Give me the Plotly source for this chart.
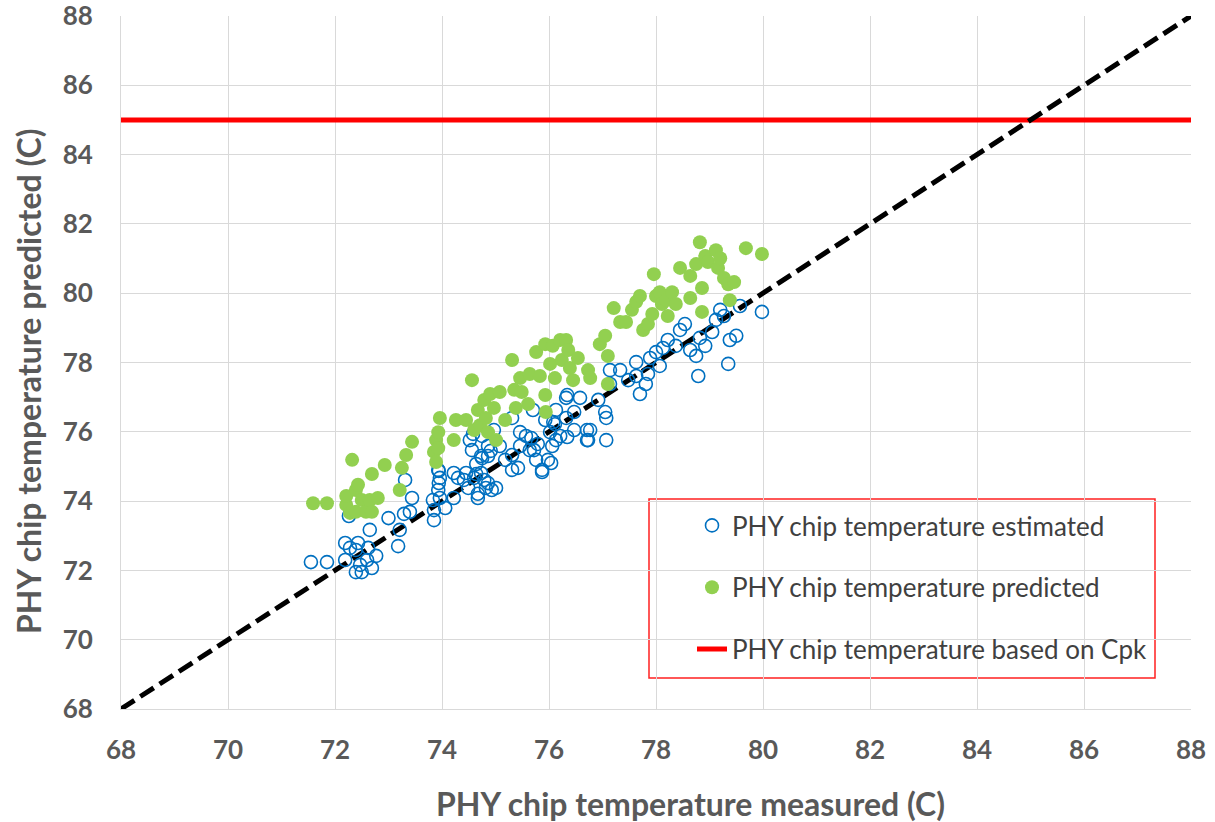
import plotly.graph_objects as go

# Estimated (blue open circles)
est_x = [71.55, 71.85, 72.19, 72.28, 72.19, 72.39, 72.43, 72.39, 72.50, 72.47, 72.60, 72.69, 72.62, 72.77,
         72.65, 72.26, 73.00, 73.18, 73.21, 73.29, 73.40, 73.44, 73.31, 73.85, 73.83, 73.85, 73.96, 73.93,
         73.96, 73.93, 74.06, 74.22, 74.30, 74.41, 74.49, 74.64, 74.67, 74.79, 74.82, 74.93, 74.86, 74.75,
         74.64, 74.56, 74.52, 74.75, 74.97, 75.08, 75.18, 75.31, 75.31, 75.42, 75.46, 75.57, 75.64, 75.79,
         75.76, 75.87, 75.98, 76.06, 76.02, 76.11, 75.93, 76.13, 76.32, 76.21, 76.47, 76.47, 76.32, 76.58,
         76.73, 76.77, 77.07, 77.07, 77.05, 76.92, 77.14, 77.14, 77.33, 77.48, 77.63, 77.63, 77.70, 77.81,
         77.85, 77.89, 78.00, 78.07, 78.13, 78.22, 78.37, 78.45, 78.54, 78.64, 78.75, 78.79, 78.82, 78.92,
         79.12, 79.05, 79.20, 79.27, 79.35, 79.38, 79.50, 79.57, 79.98,
         75.31, 75.46, 75.67, 75.72, 75.87, 76.04, 76.13, 76.34, 76.71, 76.71, 76.34, 75.70, 76.08,
         74.86, 74.91, 74.73, 74.58, 73.94, 73.94, 74.22, 74.45, 74.60, 74.73, 74.86, 75.01, 74.67]
est_y = [72.24, 72.24, 72.30, 72.65, 72.79, 72.59, 72.79, 71.95, 71.95, 72.16, 72.30, 72.07, 72.65, 72.42,
         73.17, 73.57, 73.51, 72.70, 73.17, 73.63, 73.69, 74.09, 74.61, 73.45, 74.03, 73.74, 74.09, 74.32,
         74.67, 74.90, 73.80, 74.09, 74.67, 74.61, 74.38, 74.78, 74.21, 74.61, 74.38, 74.32, 75.30, 75.24,
         75.07, 75.47, 75.76, 75.88, 76.05, 75.59, 75.19, 75.33, 74.90, 74.96, 75.59, 75.88, 75.47, 75.65,
         75.19, 74.90, 75.19, 75.59, 75.99, 76.22, 76.34, 76.63, 76.40, 75.88, 76.05, 76.57, 76.98, 76.98,
         75.76, 76.05, 75.76, 76.40, 76.57, 76.92, 77.38, 77.78, 77.78, 77.49, 77.61, 78.01, 77.09, 77.38,
         77.67, 78.13, 78.30, 77.90, 78.42, 78.65, 78.48, 78.94, 79.11, 78.36, 78.19, 77.61, 78.71, 78.48,
         79.23, 78.88, 79.52, 79.34, 77.96, 78.65, 78.77, 79.63, 79.46,
         76.40, 75.99, 75.82, 75.47, 74.84, 75.10, 75.76, 75.85, 76.05, 75.76, 77.06, 76.63, 76.28,
         75.59, 75.45, 75.30, 75.94, 74.87, 74.52, 74.81, 74.81, 74.67, 74.81, 74.52, 74.38, 74.09]

# Predicted (green filled circles)
pred_x = [71.59, 71.85, 72.21, 72.21, 72.32, 72.28, 72.39, 72.43, 72.39, 72.50, 72.58, 72.65, 72.69, 72.80,
          72.69, 72.93, 73.21, 73.25, 73.33, 73.44, 73.85, 73.89, 73.93, 73.96, 73.89, 73.93, 74.22, 74.26,
          74.45, 74.56, 74.60, 74.67, 74.71, 74.79, 74.82, 74.86, 74.90, 74.97, 75.01, 75.08, 75.18, 75.31,
          75.35, 75.38, 75.46, 75.49, 75.61, 75.64, 75.76, 75.83, 75.93, 75.93, 75.94, 76.02, 76.07, 76.11,
          76.21, 76.24, 76.32, 76.36, 76.39, 76.45, 76.54, 76.73, 76.77, 76.95, 77.05, 77.10, 77.10, 77.21,
          77.33, 77.44, 77.55, 77.63, 77.70, 77.76, 77.85, 77.93, 77.96, 78.00, 78.07, 78.11, 78.19, 78.22,
          78.30, 78.37, 78.45, 78.64, 78.64, 78.75, 78.82, 78.86, 78.86, 78.92, 78.97, 79.12, 79.16, 79.20,
          79.27, 79.35, 79.38, 79.46, 79.68, 79.98]
pred_y = [73.94, 73.94, 73.89, 74.15, 75.19, 73.66, 74.32, 74.47, 73.69, 74.03, 73.69, 74.03, 73.69, 74.09,
          74.78, 75.04, 74.32, 74.96, 75.33, 75.71, 75.42, 75.76, 75.99, 76.40, 75.13, 75.53, 75.76, 76.34,
          76.34, 77.49, 76.05, 76.63, 76.19, 76.92, 76.40, 75.99, 77.09, 76.69, 75.76, 77.15, 76.34, 78.07,
          77.21, 76.69, 77.55, 77.15, 76.80, 77.67, 78.30, 77.61, 78.53, 77.06, 76.57, 77.96, 78.48, 77.55,
          78.65, 78.07, 78.65, 78.36, 77.84, 77.49, 78.13, 77.78, 77.55, 78.53, 78.77, 78.19, 77.38, 79.57,
          79.17, 79.17, 79.52, 79.75, 79.92, 78.94, 79.11, 79.40, 80.55, 79.92, 80.03, 79.69, 79.80, 79.34,
          80.03, 79.69, 80.73, 80.50, 79.86, 80.84, 81.47, 80.15, 79.46, 81.07, 80.90, 81.24, 80.73, 81.01,
          80.44, 80.26, 79.80, 80.32, 81.30, 81.13]

cpk_x = [68, 88]
cpk_y = [85, 85]
ref_x = [68, 88]
ref_y = [68, 88]

tick_vals = list(range(68, 89, 2))

FONT = "Lato"
GRAY = "#595959"
W, H = 1215, 822
L, R, T, B = 121, 24, 16, 113
PW, PH = W - L - R, H - T - B

fig = go.Figure()
fig.add_trace(go.Scatter(x=cpk_x, y=cpk_y, mode="lines", name="PHY chip temperature based on Cpk",
                         legendgroup="c", legendrank=3,
                         line=dict(color="#FF0000", width=5)))
fig.add_trace(go.Scatter(x=ref_x, y=ref_y, mode="lines", showlegend=False,
                         line=dict(color="black", width=5, dash="16px,7px"), hoverinfo="skip"))
fig.add_trace(go.Scatter(x=est_x, y=est_y, mode="markers", name="PHY chip temperature estimated",
                         legendgroup="a", legendrank=1,
                         marker=dict(symbol="circle-open", size=13, color="#0070C0",
                                     line=dict(width=1.6, color="#0070C0"))))
fig.add_trace(go.Scatter(x=pred_x, y=pred_y, mode="markers", name="PHY chip temperature predicted",
                         legendgroup="b", legendrank=2,
                         marker=dict(symbol="circle", size=14, color="#92D050")))

# legend frame
fig.add_shape(type="rect", xref="paper", yref="paper",
              x0=(649 - L) / PW, x1=(1155 - L) / PW,
              y0=(T + PH - 678) / PH, y1=(T + PH - 499) / PH,
              line=dict(color="#FF2020", width=1.5), fillcolor="white", layer="between")

axis_common = dict(range=[68, 88], tickvals=tick_vals, showgrid=True, gridcolor="#D9D9D9", gridwidth=1,
                   zeroline=False, showline=True, linecolor="#D9D9D9", linewidth=1, automargin=False,
                   ticklabeloverflow="allow",
                   tickfont=dict(family=FONT, size=26, color=GRAY, weight="bold"), ticks="")

fig.update_xaxes(**axis_common, ticklabelstandoff=18)
fig.update_yaxes(**axis_common, ticklabelstandoff=22)

title_font = dict(family=FONT, size=32, color=GRAY, weight="bold")
fig.add_annotation(text="PHY chip temperature measured (C)", xref="paper", yref="paper",
                   x=(690 - L) / PW, y=(T + PH - 803) / PH, showarrow=False,
                   xanchor="center", yanchor="middle", font=title_font)
fig.add_annotation(text="PHY chip temperature predicted (C)", xref="paper", yref="paper",
                   x=(28 - L) / PW, y=(T + PH - 381) / PH, showarrow=False, textangle=-90,
                   xanchor="center", yanchor="middle", font=title_font)

fig.update_layout(
    width=W, height=H,
    margin=dict(l=L, r=R, t=T, b=B),
    plot_bgcolor="white", paper_bgcolor="white",
    legend=dict(x=(692 - L) / PW, y=(T + PH - 502) / PH, xanchor="left", yanchor="top",
                bgcolor="rgba(0,0,0,0)", borderwidth=0, tracegroupgap=25,
                font=dict(family=FONT, size=26, color="#404040")),
)

fig.write_html("out.html", config={"displayModeBar": False},
               post_script="document.body.style.margin='0';")
